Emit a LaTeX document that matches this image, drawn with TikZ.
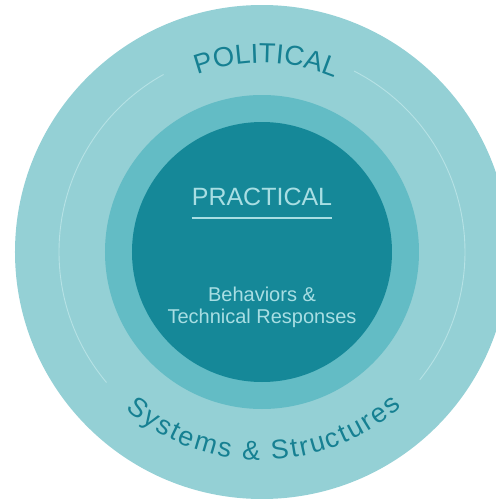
\documentclass[tikz,border=0pt]{standalone}
\usepackage{fontspec}
\setmainfont{Liberation Sans}
\usepackage{xcolor}
\usepackage{tikz}
\usetikzlibrary{positioning,decorations.text}

\definecolor{outerring}{RGB}{148,208,213}
\definecolor{midring}{RGB}{99,188,197}
\definecolor{innercore}{RGB}{21,136,152}
\definecolor{labeldark}{RGB}{22,128,146}
\definecolor{labellight}{RGB}{168,222,227}
\definecolor{thinarc}{RGB}{182,226,229}

\begin{document}
\begin{tikzpicture}[
    ring/.style={circle, draw=none, inner sep=0pt},
    arcline/.style={thinarc, line width=0.9pt},
    curvedlabel/.style={decorate, decoration={text along path, text align=fit to path, text color=labeldark}}
]
    \useasboundingbox (-262pt,-247pt) rectangle (234pt,252pt);
    \clip (-262pt,-247pt) rectangle (234pt,252pt);

    % Rings
    \node[ring, fill=outerring, minimum size=494pt] (outer) at (0,0) {};
    \node[ring, fill=midring, minimum size=314pt] (middle) at (0,0) {};
    \node[ring, fill=innercore, minimum size=260pt] (core) at (0,0) {};

    % Thin arcs in outer ring
    \draw[arcline] (119:203pt) arc[start angle=119, end angle=220, radius=203pt];
    \draw[arcline] (63:203pt) arc[start angle=63, end angle=-39, radius=203pt];

    % Curved labels
    \path[curvedlabel, decoration={text={|\fontsize{27.5}{27.5}\selectfont|POLITICAL}}]
        (110:189pt) arc[start angle=110, end angle=68, radius=189pt];
    \path[curvedlabel, decoration={text={|\fontsize{27}{27}\selectfont|Systems {\&} Structures}}]
        (229:208pt) arc[start angle=229, end angle=312, radius=208pt];

    % Core labels
    \node[font=\fontsize{25}{25}\selectfont, text=labellight, inner sep=0pt] (practical) at (0pt,55pt) {PRACTICAL};
    \draw[labellight, line width=1.4pt] ([yshift=-12pt]practical.south west) -- ([yshift=-12pt]practical.south east);
    \node[font=\fontsize{20}{22}\selectfont, text=labellight, align=center, below=77pt of practical] (behave) {Behaviors \&\\Technical Responses};
\end{tikzpicture}
\end{document}
